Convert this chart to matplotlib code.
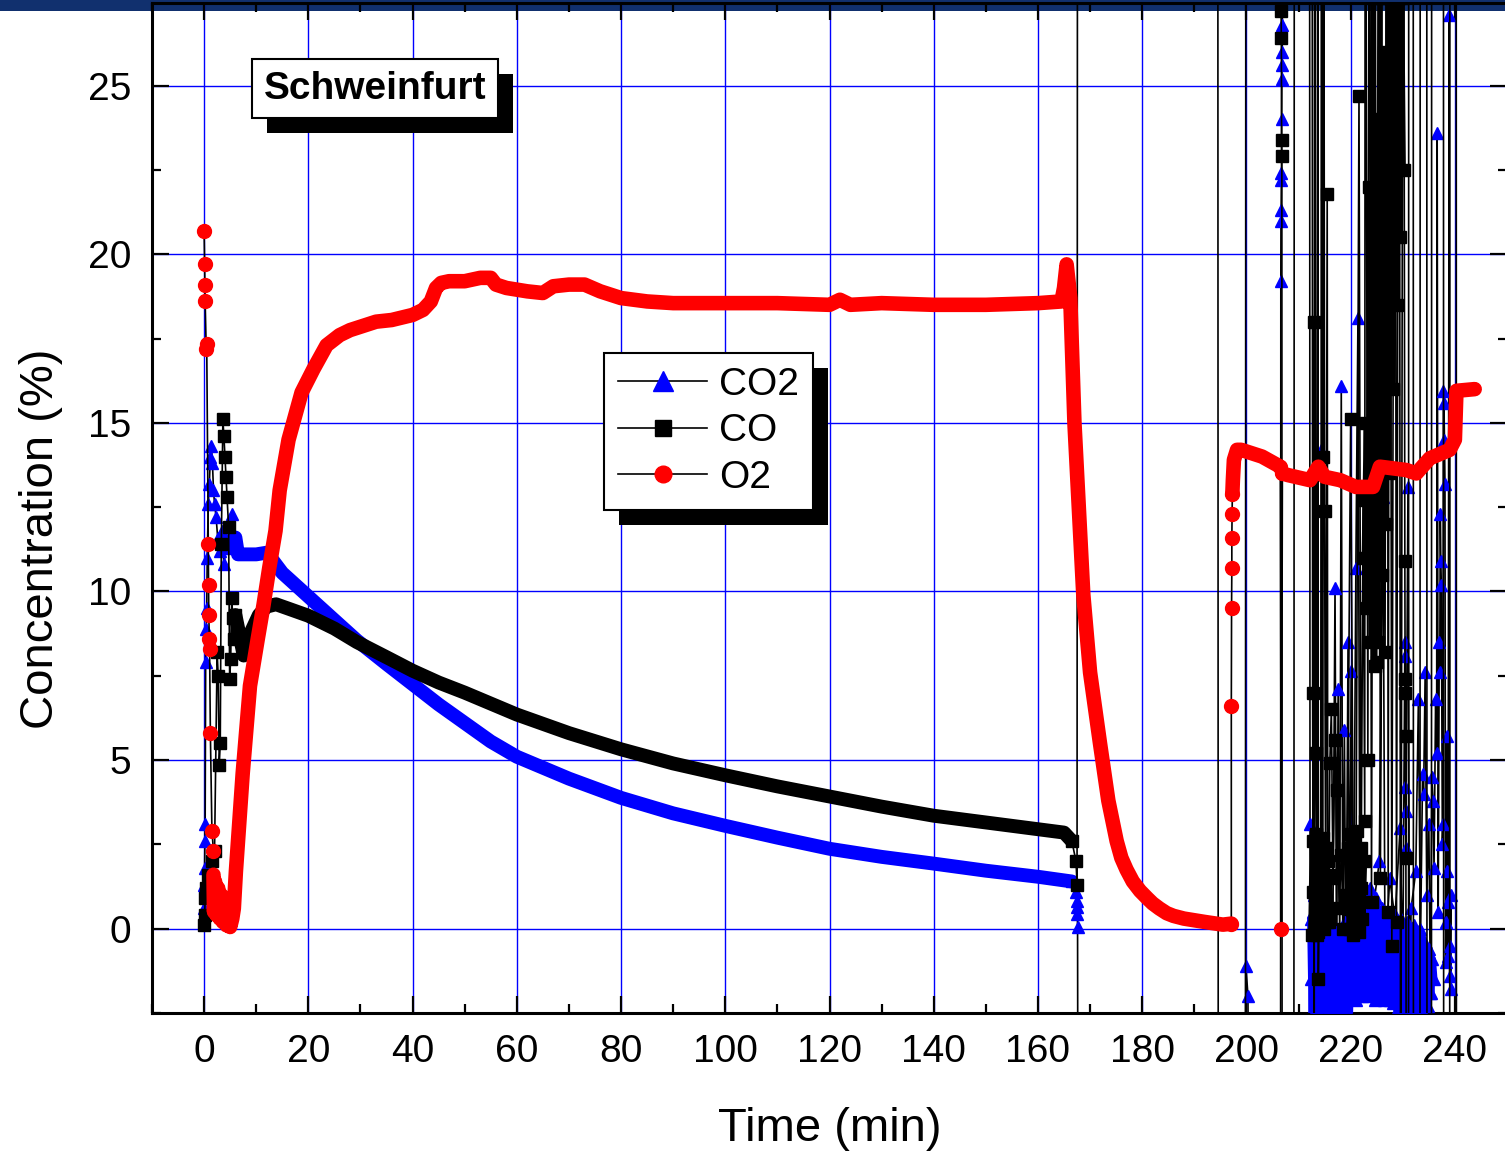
import matplotlib
matplotlib.use('Agg')
import matplotlib.pyplot as plt
from matplotlib.lines import Line2D
from matplotlib.patches import Rectangle
from matplotlib.ticker import MultipleLocator

plt.rcParams['font.family'] = ['Liberation Sans', 'DejaVu Sans']

# off-scale sensor readings (beyond the plotted range)
T = 40.0
B = -10.0

# ---------------- CO2 ----------------
co2_early_t = [0.0, 0.05, 0.1, 0.15, 0.2, 0.3, 0.4, 0.5, 0.6, 0.8, 1.0, 1.2, 1.4, 1.6, 1.8, 2.0,
               2.3, 2.6, 3.0, 3.4, 3.8, 4.2, 4.6, 5.0, 5.4, 5.8, 6.0]
co2_early_v = [0.6, 1.3, 1.8, 2.6, 3.1, 7.9, 8.9, 9.5, 11.0, 12.6, 13.2, 14.0, 14.3, 13.8, 13.0, 12.6,
               12.2, 11.6, 11.2, 11.8, 10.8, 11.3, 11.5, 11.9, 12.3, 11.4, 11.6]
co2_main_t = [6.0, 6.5, 8.0, 10.0, 12.0, 12.8, 15.0, 20.0, 25.0, 29.3, 35.0, 40.0, 45.0, 50.0, 55.0,
              60.0, 70.0, 80.0, 90.0, 100.0, 110.0, 120.0, 130.0, 140.0, 150.0, 160.0, 166.5]
co2_main_v = [11.6, 11.1, 11.1, 11.1, 11.15, 11.0, 10.55, 9.85, 9.15, 8.55, 7.85, 7.25, 6.65, 6.1, 5.55,
              5.1, 4.45, 3.88, 3.42, 3.05, 2.7, 2.37, 2.13, 1.93, 1.72, 1.54, 1.4]
co2_late_t = [166.5, 167.3, 167.4, 167.5, 167.55, 167.6, 167.7, 199.8, 199.9, 200.3, 200.4,
              206.55, 206.6, 206.63, 206.66, 206.7, 206.73, 206.76, 206.8, 206.83, 206.86, 206.9, 206.95,
              212.1, 212.2, 212.4, 212.7, 213.4, 214.2, 214.4, 214.6, 215.4, 216.6, 217.0, 217.3, 217.6,
              217.9, 218.2, 218.5, 218.8, 219.1, 219.5, 219.8, 220.1, 220.5, 221.0, 221.4, 221.8, 222.5,
              223.0, 224.5, 225.5, 226.2, 226.6, 227.5, 228.5, 229.5, 230.0, 230.4, 230.45, 230.5, 230.55,
              230.6, 231.0, 231.3, 231.6, 232.5, 233.0, 233.4, 233.8, 234.0, 234.3, 234.6, 235.0, 235.3,
              235.6, 235.8, 236.0, 236.3, 236.5, 236.6, 236.8, 237.0, 237.1, 237.2, 237.3, 237.4, 237.6,
              237.7, 237.8, 237.9, 238.0, 238.1, 238.2, 238.3, 238.4, 238.5, 238.6, 238.7, 238.9, 239.0,
              239.1, 239.2, 239.3]
co2_late_v = [1.4, 1.08, 0.83, 0.63, 0.44, 0.04, B, B, -1.1, -2.0, B,
              B, 19.2, 21.0, 21.3, 22.2, 22.4, 24.0, 25.2, 25.6, 26.0, 26.8, T,
              T, 3.1, -1.5, 0.5, 1.2, 0.3, 14.2, -0.5, 0.8, 0.2, 10.1, -1.5, 7.1,
              -0.6, 16.1, -1.2, 5.9, -2.0, 8.5, -0.9, 7.65, -1.6, 10.7, 18.1, -1.2, 0.5,
              1.0, 0.8, 2.0, 12.8, -1.0, 1.5, 0.3, 3.0, -1.3, 8.5, 8.1, 4.2, 3.5,
              2.4, 13.1, -2.3, 0.6, 1.7, 6.8, -0.5, 4.6, 4.0, 7.6, 1.0, 3.1, -1.9,
              4.5, 3.8, 1.8, 6.8, 5.2, 23.6, 0.5, 8.5, 7.6, 12.3, 10.9, 10.2, 2.5,
              3.1, 15.95, 15.6, 14.5, 13.2, -1.0, 0.2, 1.7, 5.7, -0.8, 0.8, 27.1, -1.4,
              -0.5, 1.0, -1.8]
co2_mass_t = [212.3, 212.6, 212.9, 213.2, 213.5, 213.8, 214.1, 214.4, 214.7, 215.0, 215.3, 215.6,
              215.9, 216.2, 216.5, 216.8, 217.1, 217.4, 217.7, 218.0, 218.3, 218.6, 218.9, 219.2,
              219.5, 219.8, 220.1, 220.4, 220.7, 221.0, 221.3, 221.6, 221.9, 222.2, 222.5, 222.8,
              223.1, 223.4, 223.7, 224.0, 224.3, 224.6, 224.9, 225.2, 225.5, 225.8, 226.1, 226.4,
              226.7, 227.0, 227.3, 227.6, 227.9, 228.2, 228.5, 228.8, 229.1, 229.4, 229.7, 230.0,
              230.3, 230.6, 230.9, 231.2, 231.5, 231.8, 232.1, 232.4, 232.7, 233.0, 233.3, 233.6,
              233.9, 234.2, 234.5, 234.8, 235.1, 235.4, 235.7, 236.0]
co2_mass_v = [0.3, -2.6, 1.0, -2.6, 0.2, -2.6, 0.6, -2.6, -0.2, -2.6, 0.4, -2.6,
              -0.3, -2.6, 0.1, -2.6, -0.4, -2.6, 0.0, -2.6, -0.5, -2.6, 0.2, -2.6,
              -0.3, -2.6, 0.3, -2.0, -0.2, -2.1, 0.5, -1.9, 0.2, -2.0, 1.0, -1.8,
              0.4, -2.0, 1.2, -1.9, 0.3, -2.1, 0.9, -2.0, 0.2, -2.0, 0.6, -2.1,
              -0.1, -2.0, 0.5, -2.1, 0.0, -2.2, 0.4, -2.4, -0.2, -2.6, 0.3, -2.6,
              -0.4, -2.6, 0.2, -2.6, -0.5, -2.6, 0.1, -2.6, -0.6, -2.6, 0.0, -2.6,
              -0.3, -2.6, -0.8, -2.3, -0.6, -1.9, -0.9, -1.5]

# ---------------- CO ----------------
co_early_t = [0.0, 0.1, 0.2, 0.4, 0.8, 1.6, 2.0, 2.5, 2.7, 2.9, 3.1, 3.3, 3.6, 3.8, 4.0, 4.2, 4.4,
              4.7, 4.9, 5.1, 5.3, 5.5, 5.8, 6.0]
co_early_v = [0.1, 0.4, 0.9, 1.2, 1.6, 2.0, 2.3, 8.2, 7.5, 4.85, 5.5, 11.4, 15.1, 14.6, 14.0, 13.4, 12.8,
              11.9, 7.4, 8.0, 9.8, 9.2, 8.6, 9.3]
co_main_t = [6.0, 7.6, 9.0, 10.5, 12.0, 13.8, 16.0, 20.0, 25.0, 29.3, 35.0, 40.0, 45.0, 50.0, 60.0,
             70.0, 80.0, 90.0, 100.0, 110.0, 120.0, 130.0, 140.0, 150.0, 160.0, 165.0, 166.5]
co_main_v = [9.3, 8.1, 8.8, 9.3, 9.55, 9.62, 9.5, 9.28, 8.9, 8.5, 8.05, 7.65, 7.3, 7.0, 6.35,
             5.8, 5.32, 4.9, 4.55, 4.22, 3.92, 3.62, 3.35, 3.15, 2.95, 2.85, 2.6]
co_late_t = [166.5, 167.3, 167.5, 167.6, 194.5, 194.6, 199.8, 199.9, 206.6, 206.65, 206.7, 206.75,
             206.8, 206.85, 209.1, 209.2, 212.6, 212.7, 212.8, 212.9, 213.0, 213.1, 213.3, 213.5,
             213.7, 213.8, 214.0, 214.3, 214.4, 214.6, 214.7, 214.8, 215.0, 215.2, 215.5, 215.6,
             215.8, 216.0, 216.3, 216.6, 217.0, 217.4, 217.8, 218.2, 218.6, 219.0, 219.4, 220.0,
             220.5, 221.0, 221.6, 222.0, 222.4, 222.7, 222.8, 223.3, 223.6, 224.0, 224.2, 224.6,
             225.0, 225.4, 225.7, 226.2, 226.6, 227.0, 227.2, 227.5, 227.9, 228.5, 228.8, 229.3,
             229.6, 230.1, 230.4, 230.45, 230.5, 230.55, 230.6, 230.7, 231.1, 231.15, 232.0, 232.05,
             233.3, 233.35, 234.6, 234.65, 235.5, 235.55, 237.8, 237.85, 239.0, 239.05, 240.25,
             240.3, 243.0]
co_late_v = [2.6, 2.0, 1.3, T, T, B, B, T, T, 27.2, 26.4, 23.4,
             22.9, B, B, T, T, 7.0, 1.1, 18.0, B, T, 5.2, -0.2,
             T, -1.5, 2.5, 0.5, T, 1.8, 14.0, T, 12.4, 0.8, 21.8, 2.0,
             0.2, 4.9, 6.5, 1.5, 5.6, 4.1, 0.6, 2.2, 0.0, 1.0, 2.4, 15.1,
             1.8, 0.3, 24.7, 1.2, 12.7, 3.2, T, 5.0, T, 0.8, 14.6, T,
             7.9, T, 1.5, 17.3, 8.2, T, 0.5, T, -0.5, T, 0.2, T,
             B, T, 10.9, 7.4, 7.0, 5.7, 2.1, B, B, T, T, B,
             B, T, T, B, B, T, T, B, B, T, T,
             B, B]
co_mass1_t = [212.5, 212.8, 213.1, 213.4, 213.7, 214.0, 214.3, 214.6, 214.9, 215.2, 215.5, 215.8, 216.1]
co_mass1_v = [-0.2, 2.6, 0.0, 2.8, -0.1, 2.2, 0.3, 2.7, 0.0, 2.4, 0.2, 1.6, 0.3]
co_mass2_t = [219.8, 220.1, 220.4, 220.7, 221.0, 221.3, 221.6, 221.9, 222.2, 222.5]
co_mass2_v = [0.0, 2.8, -0.2, 2.5, 0.1, 2.9, -0.1, 2.4, 0.3, 2.0]
co_tower_t = [222.5, 222.9, 223.2, 223.6, 223.9, 224.3, 224.6, 225.0, 225.3, 225.7, 226.0, 226.4,
              226.7, 227.1, 227.4, 227.8, 228.1, 228.5, 228.8, 229.2, 229.5, 229.9, 230.2]
co_tower_v = [11.0, 15.0, 9.5, 22.0, 8.5, 27.6, 7.8, 24.0, 8.5, 27.6, 10.5, 26.0,
              12.0, 27.6, 13.5, 27.6, 16.0, 27.6, 18.5, 27.6, 20.5, 27.6, 22.5]

# ---------------- O2 ----------------
o2_early_t = [0.0, 0.1, 0.15, 0.2, 0.4, 0.5, 0.8, 0.85, 0.9, 1.0, 1.05, 1.2, 1.5, 1.8]
o2_early_v = [20.7, 19.7, 19.1, 18.6, 17.2, 17.35, 11.4, 10.2, 9.3, 8.6, 8.3, 5.8, 2.9, 2.3]
o2_main_t = [1.8, 1.9, 2.1, 2.4, 2.7, 3.0, 3.3, 3.6, 4.0, 4.3, 4.7, 5.0, 5.4, 5.7, 6.1, 7.4, 8.8,
             10.3, 11.4, 12.5, 13.7, 14.5, 16.2, 18.7, 21.0, 23.5, 26.0, 28.0, 31.0, 33.0, 36.0,
             40.0, 42.0, 43.5, 44.5, 45.5, 47.0, 50.0, 53.0, 55.0, 56.0, 58.0, 62.0, 65.0, 67.0,
             70.0, 73.0, 76.0, 80.0, 85.0, 90.0, 100.0, 110.0, 120.0, 122.0, 124.0, 130.0, 140.0,
             150.0, 160.0, 164.5, 165.0, 165.5, 166.2, 167.0, 168.0, 168.7, 170.0, 171.9, 173.5,
             175.1, 176.0, 177.0, 178.2, 179.6, 181.0, 182.0, 183.3, 184.7, 186.0, 188.0, 190.0,
             192.0, 195.5, 197.1]
o2_main_v = [1.6, 0.5, 1.4, 0.4, 1.2, 0.3, 1.0, 0.2, 0.8, 0.1, 0.6, 0.05, 0.3, 0.6, 1.7, 4.6, 7.2,
             8.6, 9.6, 10.7, 11.8, 13.0, 14.5, 15.9, 16.6, 17.3, 17.6, 17.75, 17.9, 18.0, 18.05,
             18.2, 18.35, 18.6, 19.0, 19.15, 19.2, 19.2, 19.3, 19.3, 19.1, 19.0, 18.9, 18.85, 19.05,
             19.1, 19.1, 18.9, 18.7, 18.6, 18.55, 18.55, 18.55, 18.5, 18.65, 18.5, 18.55, 18.5,
             18.5, 18.55, 18.6, 19.0, 19.7, 18.7, 15.0, 12.0, 9.9, 7.6, 5.5, 3.8,
             2.6, 2.1, 1.75, 1.4, 1.12, 0.9, 0.75, 0.6, 0.46, 0.38, 0.3, 0.25,
             0.2, 0.12, 0.15]
o2_rise_t = [197.1, 197.1, 197.15, 197.2, 197.2, 197.25, 197.3]
o2_rise_v = [0.15, 6.6, 9.5, 10.7, 11.6, 12.3, 12.9]
o2_late1_t = [197.3, 197.4, 197.6, 198.2, 199.0, 203.0, 206.5]
o2_late1_v = [12.9, 13.3, 13.9, 14.2, 14.2, 14.0, 13.7]
o2_drop_t = [206.5, 206.7, 206.9]
o2_drop_v = [13.7, 0.0, 13.5]
o2_late2_t = [206.9, 208.0, 212.2, 213.8, 215.0, 218.0, 221.0, 224.3, 225.6, 230.7, 232.6, 235.2,
              239.0, 240.0, 240.3, 243.8]
o2_late2_v = [13.5, 13.45, 13.3, 13.7, 13.4, 13.3, 13.1, 13.1, 13.7, 13.6, 13.5, 13.95,
              14.2, 14.5, 15.95, 16.0]

series_names = ['CO2', 'CO', 'O2']
x_ticks = list(range(0, 241, 20))
y_ticks = [0, 5, 10, 15, 20, 25]

# ---------------- figure ----------------
W, H = 1505, 1153
fig = plt.figure(figsize=(W / 100, H / 100), dpi=100)
fig.patch.set_facecolor('white')
fig.patches.append(Rectangle((0, 1 - 11 / H), 1, 11 / H, transform=fig.transFigure,
                             facecolor='#11306e', edgecolor='none', zorder=-1))
ax = fig.add_axes([152 / W, 140 / H, 1355 / W, 1010 / H])
ax.set_facecolor('none')
ax.set_xlim(-10, 250)
ax.set_ylim(-2.5, 27.45)

thin = dict(color='black', lw=1.2, solid_joinstyle='miter')
band = dict(solid_capstyle='round', solid_joinstyle='round')

# CO2
ax.plot(co2_early_t, co2_early_v, zorder=3, **thin)
ax.plot(co2_late_t, co2_late_v, zorder=3, **thin)
ax.plot(co2_main_t, co2_main_v, color='#0000ff', lw=10, zorder=3.1, **band)
ax.plot(co2_mass_t, co2_mass_v, color='#0000ff', lw=5, zorder=3.1, **band)
for tt, vv in [(co2_early_t, co2_early_v), (co2_late_t, co2_late_v), (co2_mass_t, co2_mass_v)]:
    ax.plot(tt, vv, ls='none', marker='^', ms=9, mfc='#0000ff', mec='#0000ff', zorder=3.2)

# CO
ax.plot(co_early_t, co_early_v, zorder=4, **thin)
ax.plot(co_late_t, co_late_v, zorder=4, **thin)
ax.plot(co_main_t, co_main_v, color='black', lw=10, zorder=4.1, **band)
for tt, vv in [(co_mass1_t, co_mass1_v), (co_mass2_t, co_mass2_v)]:
    ax.plot(tt, vv, color='black', lw=5, zorder=4.1, **band)
ax.plot(co_tower_t, co_tower_v, color='black', lw=3, zorder=4.1, **band)
for tt, vv in [(co_early_t, co_early_v), (co_late_t, co_late_v), (co_tower_t, co_tower_v),
               (co_mass1_t, co_mass1_v), (co_mass2_t, co_mass2_v)]:
    ax.plot(tt, vv, ls='none', marker='s', ms=8, mfc='black', mec='black', zorder=4.2)

# O2
for tt, vv in [(o2_early_t, o2_early_v), (o2_rise_t, o2_rise_v), (o2_drop_t, o2_drop_v)]:
    ax.plot(tt, vv, zorder=5, **thin)
for tt, vv in [(o2_main_t, o2_main_v), (o2_late1_t, o2_late1_v), (o2_late2_t, o2_late2_v)]:
    ax.plot(tt, vv, color='#ff0000', lw=10.5, zorder=5.1, **band)
for tt, vv in [(o2_early_t, o2_early_v), (o2_rise_t, o2_rise_v), (o2_drop_t, o2_drop_v)]:
    ax.plot(tt, vv, ls='none', marker='o', ms=10, mfc='#ff0000', mec='#ff0000', zorder=5.2)

# axes styling
ax.set_xticks(x_ticks)
ax.set_yticks(y_ticks)
ax.xaxis.set_minor_locator(MultipleLocator(10))
ax.yaxis.set_minor_locator(MultipleLocator(2.5))
ax.tick_params(which='both', direction='in', top=True, right=True, width=1.6, color='black')
ax.tick_params(which='major', length=12, labelsize=28, pad=15)
ax.tick_params(which='minor', length=6.5)
ax.grid(True, which='major', color='#0000ff', lw=1.0)
ax.set_axisbelow(True)
for s in ax.spines.values():
    s.set_linewidth(2.2)

ax.set_xlabel('Time (min)', fontsize=34, labelpad=27)
ax.set_ylabel('Concentration (%)', fontsize=34)
ax.yaxis.set_label_coords(-0.066, 0.469)

# title box
title = ax.text(0.1646, 0.9153, 'Schweinfurt', transform=ax.transAxes, ha='center', va='center',
                fontsize=28, fontweight='bold', color='black',
                bbox=dict(boxstyle='square,pad=0.3', fc='white', ec='black', lw=1.5), zorder=31)

# legend
handles = [Line2D([], [], color='black', lw=1.2, marker='^', ms=14, mfc='#0000ff', mec='#0000ff'),
           Line2D([], [], color='black', lw=1.2, marker='s', ms=11, mfc='black', mec='black'),
           Line2D([], [], color='black', lw=1.2, marker='o', ms=12, mfc='#ff0000', mec='#ff0000')]
leg = ax.legend(handles, series_names, loc='upper left', bbox_to_anchor=(0.3336, 0.6535),
                bbox_transform=ax.transAxes, fontsize=28, frameon=True, fancybox=False,
                framealpha=1, borderpad=0.36, labelspacing=0.265, handlelength=2.3,
                handletextpad=0.3, borderaxespad=0, numpoints=1)
leg.get_frame().set_edgecolor('black')
leg.get_frame().set_linewidth(1.5)
leg.set_zorder(41)

# drop shadows (offset black boxes behind title box and legend)
fig.canvas.draw()
renderer = fig.canvas.get_renderer()
for artist_bb, z in [(title.get_bbox_patch().get_window_extent(renderer), 30),
                     (leg.get_frame().get_window_extent(renderer), 40)]:
    x0, y0, w, h = artist_bb.x0, artist_bb.y0, artist_bb.width, artist_bb.height
    sh = Rectangle(((x0 + 15) / W, (y0 - 15) / H), w / W, h / H, transform=fig.transFigure,
                   facecolor='black', edgecolor='none', zorder=z)
    ax.add_artist(sh)

fig.savefig('out.png', dpi=100, facecolor='white')
